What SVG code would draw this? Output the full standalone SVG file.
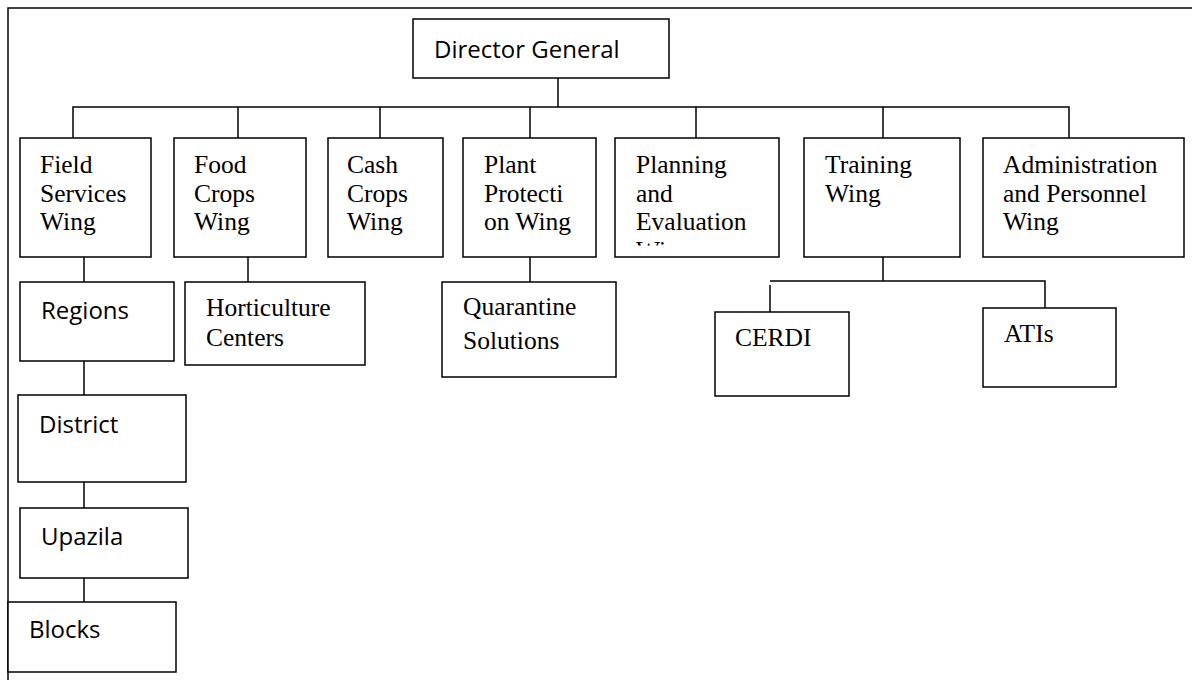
<svg xmlns="http://www.w3.org/2000/svg" width="1192" height="680" viewBox="0 0 1192 680">
<style>
.box{fill:#fff;stroke:#000;stroke-width:1.5}
.ln{fill:none;stroke:#000;stroke-width:1.5}
.s{font-family:"Open Sans","Liberation Sans",sans-serif;font-size:24px;fill:#000}
.t{font-family:"Liberation Serif","Times New Roman",serif;font-size:25.5px;fill:#000}
</style>
<defs>
<clipPath id="clipPlan"><rect x="615" y="138" width="164" height="107.5"/></clipPath>
</defs>
<rect width="1192" height="680" fill="#fff"/>
<g id="frame"><path class="ln" d="M8,680 V8 H1192"/></g>
<g id="connectors">
<path class="ln" d="M558,78 V107"/>
<path class="ln" d="M73,138 V107 H1069 V138"/>
<path class="ln" d="M238,107 V138 M380,107 V138 M530,107 V138 M696,107 V138 M883,107 V138"/>
<path class="ln" d="M84,257 V282 M84,361 V395 M84,482 V508 M84,578 V602"/>
<path class="ln" d="M248,257 V282"/>
<path class="ln" d="M530,257 V282"/>
<path class="ln" d="M883,257 V281 M770,281 H1045 V308 M770,285 V312"/>
</g>
<g id="director"><rect class="box" x="413" y="19" width="256" height="59"/><text class="s" x="434" y="58">Director General</text></g>
<g id="field"><rect class="box" x="20" y="138" width="131" height="119"/><text class="t" x="40" y="173">Field</text><text class="t" x="40" y="202">Services</text><text class="t" x="40" y="230">Wing</text></g>
<g id="food"><rect class="box" x="174" y="138" width="132" height="119"/><text class="t" x="194" y="173">Food</text><text class="t" x="194" y="202">Crops</text><text class="t" x="194" y="230">Wing</text></g>
<g id="cash"><rect class="box" x="328" y="138" width="115" height="119"/><text class="t" x="347" y="173">Cash</text><text class="t" x="347" y="202">Crops</text><text class="t" x="347" y="230">Wing</text></g>
<g id="plant"><rect class="box" x="463" y="138" width="133" height="119"/><text class="t" x="484" y="173">Plant</text><text class="t" x="484" y="202">Protecti</text><text class="t" x="484" y="230">on Wing</text></g>
<g id="planning"><rect class="box" x="615" y="138" width="164" height="119"/><g clip-path="url(#clipPlan)"><text class="t" x="636" y="173">Planning</text><text class="t" x="636" y="202">and</text><text class="t" x="636" y="230">Evaluation</text><text class="t" x="636" y="259">Wing</text></g></g>
<g id="training"><rect class="box" x="804" y="138" width="156" height="119"/><text class="t" x="825" y="173">Training</text><text class="t" x="825" y="202">Wing</text></g>
<g id="admin"><rect class="box" x="983" y="138" width="201" height="119"/><text class="t" x="1003" y="173">Administration</text><text class="t" x="1003" y="202">and Personnel</text><text class="t" x="1003" y="230">Wing</text></g>
<g id="regions"><rect class="box" x="20" y="282" width="154" height="79"/><text class="s" x="41" y="319">Regions</text></g>
<g id="district"><rect class="box" x="18" y="395" width="168" height="87"/><text class="s" x="39" y="433">District</text></g>
<g id="upazila"><rect class="box" x="20" y="508" width="168" height="70"/><text class="s" x="41" y="545">Upazila</text></g>
<g id="blocks"><rect class="box" x="8" y="602" width="168" height="70"/><text class="s" x="29" y="638">Blocks</text></g>
<g id="horticulture"><rect class="box" x="185" y="282" width="180" height="83"/><text class="t" x="206" y="316">Horticulture</text><text class="t" x="206" y="346">Centers</text></g>
<g id="quarantine"><rect class="box" x="442" y="282" width="174" height="95"/><text class="t" x="463" y="315">Quarantine</text><text class="t" x="463" y="349">Solutions</text></g>
<g id="cerdi"><rect class="box" x="715" y="312" width="134" height="84"/><text class="t" x="735" y="346">CERDI</text></g>
<g id="atis"><rect class="box" x="983" y="308" width="133" height="79"/><text class="t" x="1004" y="342">ATIs</text></g>
</svg>
